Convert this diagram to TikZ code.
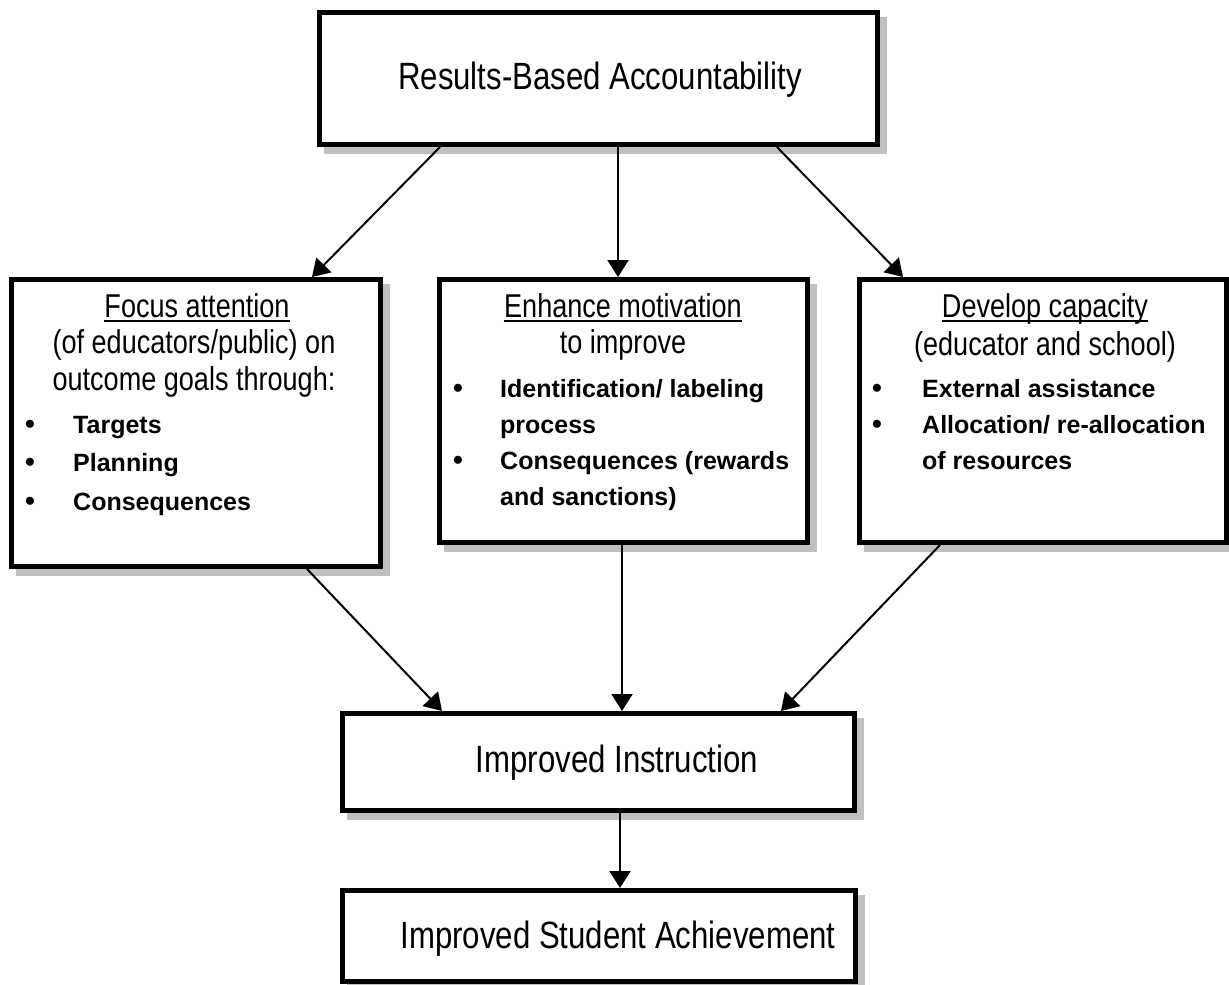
\documentclass[tikz,border=0pt]{standalone}
\usepackage{fontspec}
\setmainfont{Liberation Sans}
\newfontfamily\narrowfont{Liberation Sans}[FakeStretch=0.82]
\usetikzlibrary{arrows.meta,calc,backgrounds}
\begin{document}
\begin{tikzpicture}[x=1pt,y=-1pt,
  box/.style={draw, line width=5pt, fill=white, inner sep=0pt},
  shadowfill/.style={fill=black!25, draw=none},
  arr/.style={line width=2pt, -{Triangle[length=17pt,width=21pt]}},
  big/.style={font=\narrowfont\fontsize{38}{42}\selectfont, inner sep=0pt, anchor=base},
  head/.style={font=\narrowfont\fontsize{33}{38}\selectfont, inner sep=0pt, anchor=base},
  bul/.style={font=\bfseries\fontsize{25}{30}\selectfont, inner sep=0pt, anchor=base west},
  dot/.style={font=\bfseries\fontsize{28}{30}\selectfont, inner sep=0pt, anchor=base},
  uline/.style={line width=2pt}
]
\useasboundingbox (0,0) rectangle (1229,985);

% boxes
\node[box, minimum width=558pt, minimum height=132pt] (top) at (598.5,78.5) {};
\node[box, minimum width=369pt, minimum height=287pt] (focus) at (196,423) {};
\node[box, minimum width=368pt, minimum height=263pt] (enh) at (623.5,411) {};
\node[box, minimum width=367pt, minimum height=263pt] (dev) at (1043,411) {};
\node[box, minimum width=512pt, minimum height=97pt] (ii) at (598.5,762) {};
\node[box, minimum width=513pt, minimum height=91pt] (sa) at (599,936) {};

\begin{scope}[on background layer]
  \fill[white] (0,0) rectangle (1229,985);
  \foreach \b in {top,focus,enh,dev,ii,sa}{
    \fill[shadowfill] ($(\b.north west)+(7,7)$) rectangle ($(\b.south east)+(7,7)$);
  }
\end{scope}

% texts
\node[big] (t1) at (600,89) {Results-Based Accountability};
\node[big] (t2) at (617,772) {Improved Instruction};
\node[big] (t3) at (618,948) {Improved Student Achievement};

% focus
\node[head] (fh) at (197,317) {Focus attention};
\draw[uline] ([yshift=-4pt]fh.base west) -- ([yshift=-4pt]fh.base east);
\node[head] (fs1) at (194,353) {(of educators/public) on};
\node[head] (fs2) at (194,390) {outcome goals through:};
\node[dot] (fd1) at (30,433) {•};
\node[dot] (fd2) at (30,471) {•};
\node[dot] (fd3) at (30,510) {•};
\node[bul] (fb1) at (73,433) {Targets};
\node[bul] (fb2) at (73,471) {Planning};
\node[bul] (fb3) at (73,510) {Consequences};

% enhance
\node[head] (eh) at (623,317) {Enhance motivation};
\draw[uline] ([yshift=-4pt]eh.base west) -- ([yshift=-4pt]eh.base east);
\node[head] (es1) at (623,353) {to improve};
\node[dot] (ed1) at (458,397) {•};
\node[dot] (ed2) at (458,469) {•};
\node[bul] (eb1) at (500,397) {Identification/ labeling};
\node[bul] (eb2) at (500,433) {process};
\node[bul] (eb3) at (500,469) {Consequences (rewards};
\node[bul] (eb4) at (500,505) {and sanctions)};

% develop
\node[head] (dh) at (1045,317) {Develop capacity};
\draw[uline] ([yshift=-4pt]dh.base west) -- ([yshift=-4pt]dh.base east);
\node[head] (ds1) at (1045,355) {(educator and school)};
\node[dot] (dd1) at (877,397) {•};
\node[dot] (dd2) at (877,433) {•};
\node[bul] (db1) at (922,397) {External assistance};
\node[bul] (db2) at (922,433) {Allocation/ re-allocation};
\node[bul] (db3) at (922,469) {of resources};

% arrows
\draw[arr] ([xshift=123pt]top.south west) -- ([xshift=303pt]focus.north west);
\draw[arr] ([xshift=301pt]top.south west) -- ([xshift=181pt]enh.north west);
\draw[arr] ([xshift=460pt]top.south west) -- ([xshift=46pt]dev.north west);
\draw[arr] ([xshift=298pt]focus.south west) -- ([xshift=102pt]ii.north west);
\draw[arr] ([xshift=185pt]enh.south west) -- ([xshift=282pt]ii.north west);
\draw[arr] ([xshift=83pt]dev.south west) -- ([xshift=441pt]ii.north west);
\draw[arr] ([xshift=280pt]ii.south west) -- ([xshift=280pt]sa.north west);
\end{tikzpicture}
\end{document}
